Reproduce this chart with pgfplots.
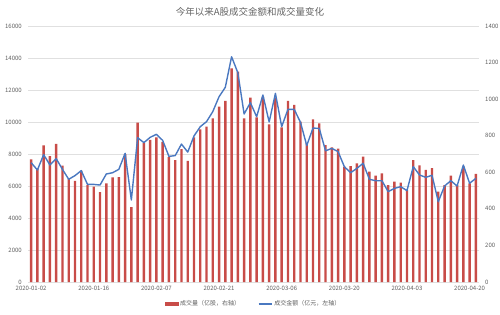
\documentclass[border=0pt]{standalone}
\usepackage{fontspec}
\setmainfont{Noto Sans CJK SC}
\usepackage{pgfplots}
\usepackage{pgfplotstable}
\pgfplotsset{compat=1.18}
\definecolor{barred}{RGB}{200,76,72}
\definecolor{lineblue}{RGB}{74,120,192}
\definecolor{txtgray}{RGB}{95,95,95}
\definecolor{titlegray}{RGB}{100,100,100}
\definecolor{gridgray}{RGB}{224,224,224}

\pgfplotstableread{
i vol amt
0 671 7460
1 621 7000
2 747 7960
3 689 7310
4 755 7710
5 637 7040
6 564 6420
7 553 6650
8 609 6960
9 530 6100
10 522 6100
11 492 6060
12 540 6750
13 572 6830
14 574 7040
15 700 8040
16 410 5125
17 872 9020
18 759 8710
19 777 9040
20 791 9230
21 767 8850
22 683 7850
23 667 7900
24 727 8620
25 663 8120
26 791 9125
27 835 9710
28 850 10020
29 895 10650
30 959 11580
31 990 12170
32 1168 14080
33 1151 13080
34 895 10500
35 1008 11210
36 900 10330
37 1013 11690
38 862 10000
39 1005 11790
40 846 9710
41 991 10790
42 968 10790
43 877 9980
44 759 8530
45 890 9620
46 868 9600
47 749 8200
48 736 8350
49 729 8150
50 631 7210
51 634 6830
52 649 7100
53 685 7420
54 604 6420
55 582 6330
56 594 6330
57 530 5650
58 549 5850
59 543 5960
60 503 5710
61 667 7210
62 638 6690
63 613 6540
64 623 6670
65 494 5020
66 530 6000
67 582 6330
68 530 6000
69 631 7310
70 540 6170
71 591 6480
}\datatable

\pgfplotsset{
  basestyle/.style={
    at={(28pt,32pt)}, anchor=south west,
    scale only axis, width=451pt, height=256pt,
    xmin=-0.5, xmax=71.5, ymin=0,
    axis line style={draw=none},
    major tick length=0pt,
    tick label style={font=\fontsize{6}{7}\selectfont, text=txtgray, inner sep=0pt},
    /pgf/number format/assume math mode=true,
    /pgf/number format/set thousands separator={},
    scaled y ticks=false,
    yticklabel shift=6pt,
    xticklabel shift=4pt,
  }
}

\begin{document}
\begin{tikzpicture}
% axis 1: grid, left ticks, date labels
\begin{axis}[basestyle,
  ymax=16000, ytick={0,2000,...,16000},
  ymajorgrids, grid style={gridgray, line width=0.8pt},
  xtick={0,10,...,70},
  xticklabels={2020-01-02,2020-01-16,2020-02-07,2020-02-21,2020-03-06,2020-03-20,2020-04-03,2020-04-20},
]
\end{axis}
% axis 2: bars on the right axis
\begin{axis}[basestyle,
  ymax=1400, ytick={0,200,...,1400},
  yticklabel pos=right,
  xtick=\empty,
]
\addplot[ybar, bar width=2.4pt, fill=barred, draw=none] table[x=i,y=vol]{\datatable};
\end{axis}
% axis 3: line on the left axis, legend
\begin{axis}[basestyle,
  ymax=16000, ytick=\empty, xtick=\empty,
  legend columns=2,
  legend style={at={(0.5,0)}, anchor=center, yshift=-22pt, draw=none, fill=none,
    font=\fontsize{6}{7}\selectfont, text=txtgray,
    /tikz/every even column/.append style={column sep=16pt}},
]
\addlegendimage{legend image code/.code={\fill[barred] (0pt,-1.6pt) rectangle (13pt,1.6pt);}}
\addlegendentry{成交量（亿股，右轴）}
\addplot[lineblue, line width=1.4pt, line join=round, legend image code/.code={\draw[lineblue, line width=1.2pt] (0pt,0pt) -- (13pt,0pt);}] table[x=i,y=amt]{\datatable};
\addlegendentry{成交金额（亿元，左轴）}
\end{axis}
\node[font=\fontsize{9.5}{11}\selectfont, text=titlegray] at (250pt,302pt) {今年以来A股成交金额和成交量变化};
\pgfresetboundingbox
\useasboundingbox (0pt,0pt) rectangle (500pt,314pt);
\end{tikzpicture}
\end{document}
